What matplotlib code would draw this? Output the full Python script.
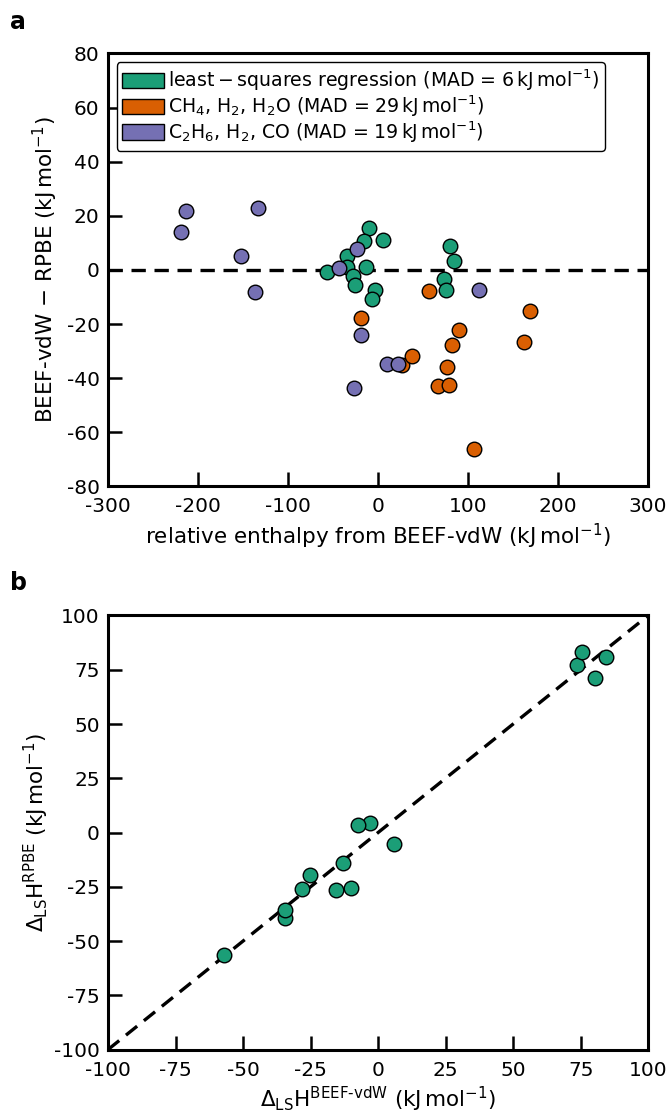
import numpy as np
import matplotlib
matplotlib.use("Agg")
import matplotlib.pyplot as plt
from matplotlib.patches import Patch

# ============================================
# DATA
# ============================================

# least-squares set: enthalpies relative to the fitted references
ls_beef = [-57.1, -10.0, -15.7, 5.8, -34.6, -34.6, -12.9, -28.1, -25.3,
           -3.1, -7.3, 80.3, 84.2, 73.6, 75.5]
ls_rpbe = [-56.4, -25.6, -26.4, -5.3, -39.6, -35.8, -13.9, -25.8, -19.8,
           4.3, 3.3, 71.4, 80.9, 77.0, 83.1]

# CH4, H2, H2O reference set
ch4_x = [-18.5, 56.3, 168.2, 90.0, 26.0, 37.8, 82.2, 161.6, 76.3, 66.7, 78.6, 106.7]
ch4_diff = [-17.7, -7.8, -15.2, -22.3, -35.2, -32.0, -27.8, -26.7, -35.8, -42.8, -42.5, -66.3]

# C2H6, H2, CO reference set
c2h6_x = [-212.9, -219.2, -133.7, -151.8, -137.0, -43.7, -23.3, -18.5, 111.6, -27.0, 10.0, 22.2]
c2h6_diff = [21.9, 14.1, 23.0, 5.2, -8.3, 0.6, 7.7, -24.1, -7.3, -43.5, -34.9, -34.7]

labels = [
    r'$\mathrm{least-squares\ regression}$ (MAD = 6$\,$kJ$\,$mol$^{-1}$)',
    r'CH$_4$, H$_2$, H$_2$O (MAD = 29$\,$kJ$\,$mol$^{-1}$)',
    r'C$_2$H$_6$, H$_2$, CO (MAD = 19$\,$kJ$\,$mol$^{-1}$)',
]
colors = ['#1b9e77', '#d95f02', '#7570b3']

# ============================================
# STYLE
# ============================================

plt.rcParams['font.family'] = 'DejaVu Sans'
plt.rcParams['axes.unicode_minus'] = False
plt.rcParams['mathtext.default'] = 'regular'
plt.rcParams['font.size'] = 14

fig = plt.figure(figsize=(6.71, 11.13), dpi=100)
ax1 = fig.add_axes([0.161, 0.563, 0.805, 0.389])
ax2 = fig.add_axes([0.161, 0.057, 0.805, 0.390])


def style_axis(ax):
    for side in ['left', 'bottom', 'top', 'right']:
        ax.spines[side].set_linewidth(2.2)
    ax.tick_params(direction='in', length=10, width=1.8, labelsize=14.5,
                   top=False, right=False, pad=6)
    ax.tick_params(axis='x', pad=8)


# ============================================
# PANEL a
# ============================================

ls_diff = np.array(ls_beef) - np.array(ls_rpbe)

ax1.axhline(0, color='black', lw=2.4, linestyle=(0, (4.3, 2.6)), zorder=1)
ax1.scatter(ls_beef, ls_diff, s=110, color=colors[0], edgecolor='black',
            linewidth=1.0, zorder=3)
ax1.scatter(ch4_x, ch4_diff, s=110, color=colors[1], edgecolor='black',
            linewidth=1.0, zorder=3)
ax1.scatter(c2h6_x, c2h6_diff, s=110, color=colors[2], edgecolor='black',
            linewidth=1.0, zorder=3)

ax1.set_xlim(-300, 300)
ax1.set_ylim(-80, 80)
ax1.set_xticks(np.arange(-300, 301, 100))
ax1.set_yticks(np.arange(-80, 81, 20))
ax1.set_xlabel(r'relative enthalpy from BEEF-vdW (kJ$\,$mol$^{-1}$)', fontsize=15.5, labelpad=4)
ax1.set_ylabel('BEEF-vdW \u2212 RPBE (kJ$\\,$mol$^{-1}$)', fontsize=15.5, labelpad=5)
style_axis(ax1)

handles = [Patch(facecolor=c, edgecolor='black', linewidth=1.0) for c in colors]
leg = ax1.legend(handles, labels, loc='upper left', fontsize=13.6,
                 handlelength=2.2, handleheight=0.9, handletextpad=0.2,
                 labelspacing=0.02, borderpad=0.3, borderaxespad=0.45,
                 fancybox=True, framealpha=1)
leg.get_frame().set_edgecolor('black')
leg.get_frame().set_linewidth(1.0)

# ============================================
# PANEL b
# ============================================

ax2.plot([-100, 100], [-100, 100], color='black', lw=2.4,
         linestyle=(0, (4.3, 2.6)), zorder=1)
ax2.scatter(ls_beef, ls_rpbe, s=110, color=colors[0], edgecolor='black',
            linewidth=1.0, zorder=3)
ax2.set_xlim(-100, 100)
ax2.set_ylim(-100, 100)
ax2.set_xticks(np.arange(-100, 101, 25))
ax2.set_yticks(np.arange(-100, 101, 25))
ax2.set_xlabel(r'$\Delta_{LS}H^{BEEF\text{-}vdW}$ (kJ$\,$mol$^{-1}$)', fontsize=15.5, labelpad=4)
ax2.set_ylabel(r'$\Delta_{LS}H^{RPBE}$ (kJ$\,$mol$^{-1}$)', fontsize=15.5, labelpad=2)
style_axis(ax2)

fig.text(0.015, 0.980, 'a', fontsize=17, fontweight='bold', va='center')
fig.text(0.015, 0.476, 'b', fontsize=17, fontweight='bold', va='center')

fig.savefig('out.png', dpi=100)
